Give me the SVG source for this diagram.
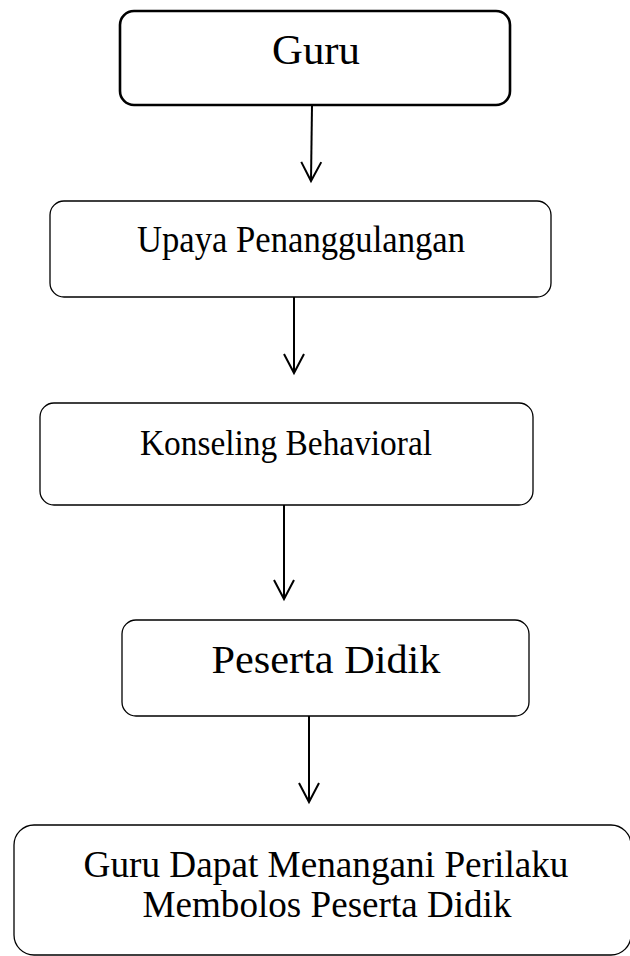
<svg xmlns="http://www.w3.org/2000/svg" width="630" height="956" viewBox="0 0 630 956">
<style>
  .box { fill: #ffffff; stroke: #000000; stroke-width: 1.3; }
  .box-bold { fill: #ffffff; stroke: #000000; stroke-width: 2.6; }
  .lbl { font-family: "Liberation Serif", "Times New Roman", serif; fill: #000000; text-anchor: middle; }
  .conn { stroke: #000000; stroke-width: 2; fill: none; marker-end: url(#vhead); }
</style>
<defs>
  <marker id="vhead" viewBox="-21 -12 23 24" markerWidth="23" markerHeight="24" refX="0" refY="0" orient="auto" markerUnits="userSpaceOnUse" overflow="visible">
    <path d="M -19 -10 L 0 0 L -19 10" fill="none" stroke="#000000" stroke-width="2"/>
  </marker>
</defs>
<rect width="630" height="956" fill="#ffffff"/>
<g id="connectors">
  <path class="conn" d="M 312 105 L 311 181"/>
  <path class="conn" d="M 294 297 L 294 373"/>
  <path class="conn" d="M 284 505 L 284 599"/>
  <path class="conn" d="M 309 716 L 309 802"/>
</g>
<g id="node-guru">
  <rect class="box-bold" x="120" y="11" width="390" height="94" rx="14" ry="14"/>
  <text class="lbl" x="316" y="64" font-size="42" textLength="88" lengthAdjust="spacingAndGlyphs">Guru</text>
</g>
<g id="node-upaya">
  <rect class="box" x="50" y="201" width="501" height="96" rx="14" ry="14"/>
  <text class="lbl" x="301" y="252" font-size="37" textLength="328" lengthAdjust="spacingAndGlyphs">Upaya Penanggulangan</text>
</g>
<g id="node-konseling">
  <rect class="box" x="40" y="403" width="493" height="102" rx="14" ry="14"/>
  <text class="lbl" x="286" y="455" font-size="35" textLength="292" lengthAdjust="spacingAndGlyphs">Konseling Behavioral</text>
</g>
<g id="node-peserta">
  <rect class="box" x="122" y="620" width="407" height="96" rx="14" ry="14"/>
  <text class="lbl" x="326" y="673" font-size="41" textLength="229" lengthAdjust="spacingAndGlyphs">Peserta Didik</text>
</g>
<g id="node-hasil">
  <rect class="box" x="14" y="825" width="617" height="130" rx="20" ry="20"/>
  <text class="lbl" x="326" y="877" font-size="37.5" textLength="485" lengthAdjust="spacingAndGlyphs">Guru Dapat Menangani Perilaku</text>
  <text class="lbl" x="327" y="917" font-size="37.5" textLength="369" lengthAdjust="spacingAndGlyphs">Membolos Peserta Didik</text>
</g>
</svg>
